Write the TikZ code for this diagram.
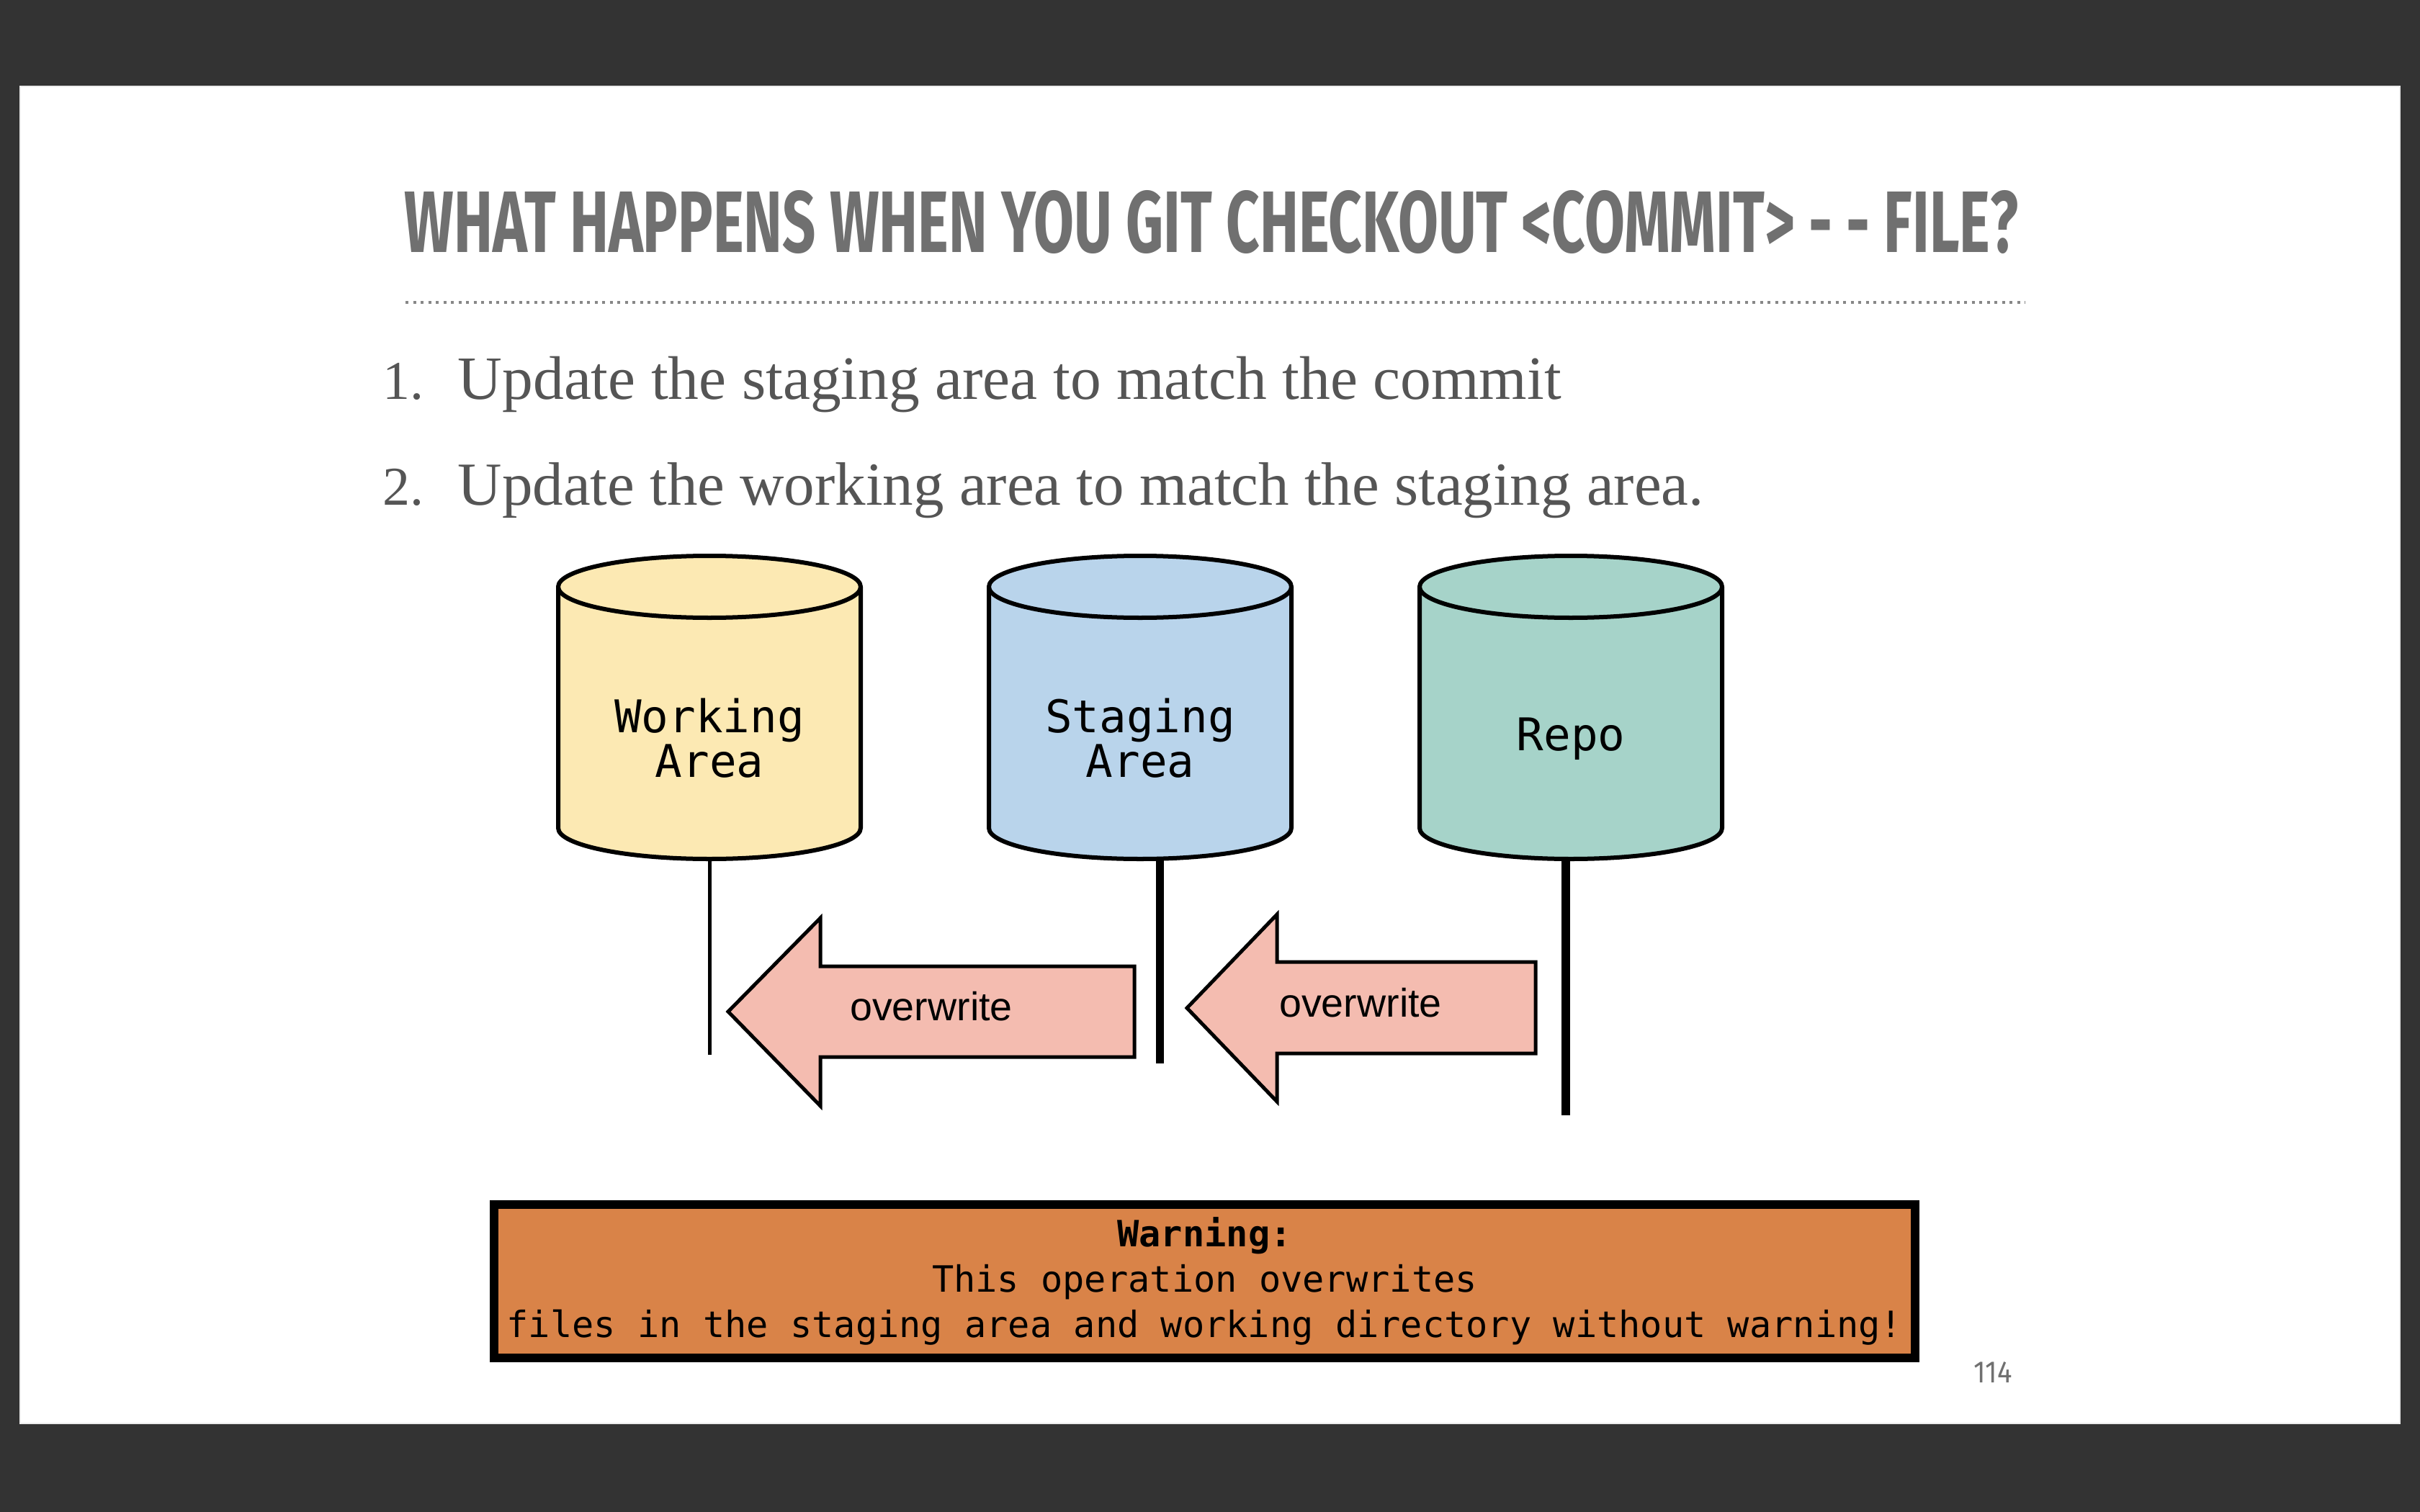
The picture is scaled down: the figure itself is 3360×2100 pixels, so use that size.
\documentclass[tikz,border=0pt]{standalone}
\usepackage{graphicx}
\usepackage{fontspec}
\setmainfont{Liberation Serif}
\setsansfont{Liberation Sans}
\setmonofont{DejaVu Sans Mono}
\newfontfamily\titlefont{Fira Sans}
\usepackage{tikz}
\usetikzlibrary{positioning}
\usepackage{xcolor}
\definecolor{gtdark}{RGB}{51,51,51}
\definecolor{gtgrey}{RGB}{112,112,112}
\definecolor{gttext}{RGB}{85,85,85}
\definecolor{gtdots}{RGB}{135,135,135}
\definecolor{gtyellow}{RGB}{252,233,179}
\definecolor{gtblue}{RGB}{185,212,235}
\definecolor{gtteal}{RGB}{166,211,201}
\definecolor{gtsalmon}{RGB}{244,188,176}
\definecolor{gtorange}{RGB}{217,131,72}
\tikzstyle{dbline} = [draw=black, line width=0.06cm, line join=round]
\tikzstyle{dblabel} = [font=\ttfamily\fontsize{17.8}{17.6}\selectfont, align=center, text=black]
\tikzstyle{overarrow} = [draw=black, fill=gtsalmon, line width=0.05cm, line join=miter]
\tikzstyle{overlabel} = [font=\sffamily\fontsize{15.8}{18}\selectfont, text=black]
\tikzstyle{stem} = [draw=black, line cap=butt]
\tikzstyle{warnbox} = [rectangle, draw=black, fill=gtorange, line width=0.12cm, minimum width=19.71cm, minimum height=2.13cm, align=center, font=\ttfamily\fontsize{14.3}{17.9}\selectfont]
\tikzstyle{itemtext} = [anchor=base west, text=gttext, font=\fontsize{21.6}{26}\selectfont]

\newcommand{\dbcyl}[2]{%
  \filldraw[dbline, fill=#2] (#1-210,815) -- (#1-210,1150)
    arc[start angle=180, end angle=0, x radius=210, y radius=43] -- (#1+210,815) -- cycle;
  \filldraw[dbline, fill=#2] (#1,815) ellipse[x radius=210, y radius=43];
}

\begin{document}
\begin{tikzpicture}[x=0.01cm, y=-0.01cm, every node/.style={inner sep=0pt}]
\useasboundingbox (0,0) rectangle (3360,2100);
% Slide
\fill[gtdark] (0,0) rectangle (3360,2100);
\filldraw[fill=white, draw=gray!15, line width=0.02cm] (28,120) rectangle (3332,1977);

% Title
\node[anchor=base west, text=gtgrey] (title) at (561,350)
  {\resizebox{22.39cm}{0.86cm}{\titlefont\bfseries WHAT HAPPENS WHEN YOU GIT CHECKOUT <COMMIT> - - FILE?}};
\draw[gtdots, line width=0.045cm, dash pattern=on 0.04cm off 0.065cm] (563,420) -- (2812,420);

% Steps
\node[itemtext] (n1) at (531,554) {1.};
\node[itemtext] (s1) at (635,554) {\resizebox{15.31cm}{!}{Update the staging area to match the commit}};
\node[itemtext] (n2) at (531,701) {2.};
\node[itemtext] (s2) at (635,701) {\resizebox{17.29cm}{!}{Update the working area to match the staging area.}};

% Cylinders
\dbcyl{985}{gtyellow}
\dbcyl{1583}{gtblue}
\dbcyl{2181}{gtteal}
\node[dblabel] (work) at (985,1025) {Working\\Area};
\node[dblabel] (stage) at (1583,1025) {Staging\\Area};
\node[dblabel] (repo) at (2181,1026) {Repo};

% Stems
\coordinate (workfoot) at (985,1192);
\coordinate (workend) at (985,1465);
\coordinate (stagefoot) at (1610,1192);
\coordinate (stageend) at (1610,1477);
\coordinate (repofoot) at (2174,1192);
\coordinate (repoend) at (2174,1549);
\draw[stem, line width=0.05cm] (workfoot) -- (workend);
\draw[stem, line width=0.11cm] (stagefoot) -- (stageend);
\draw[stem, line width=0.12cm] (repofoot) -- (repoend);

% Overwrite arrows
\filldraw[overarrow] (1011,1405) -- (1139,1275) -- (1139,1342) -- (1575,1342)
  -- (1575,1468) -- (1139,1468) -- (1139,1536) -- cycle;
\node[overlabel] (ow1) at (1293,1398) {overwrite};
\filldraw[overarrow] (1648,1400) -- (1773,1270) -- (1773,1336) -- (2132,1336)
  -- (2132,1463) -- (1773,1463) -- (1773,1530) -- cycle;
\node[overlabel] (ow2) at (1889,1393) {overwrite};

% Warning
\node[warnbox] (warn) at (1672.5,1779.5)
  {\textbf{Warning:}\\This operation overwrites\\files in the staging area and working directory without warning!};

% Page number
\node[anchor=base west, text=gtgrey] (page) at (2740,1920) {\resizebox{0.53cm}{0.29cm}{\titlefont 114}};
\end{tikzpicture}
\end{document}
